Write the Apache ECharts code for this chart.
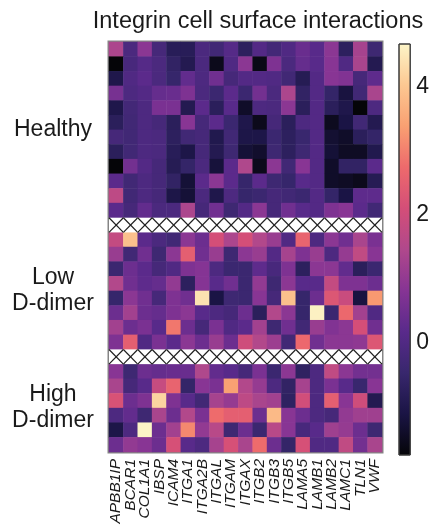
<!DOCTYPE html>
<html>
<head>
<meta charset="utf-8">
<script src="https://cdn.jsdelivr.net/npm/echarts@6/dist/echarts.min.js"></script>
<style>
  html, body { margin: 0; padding: 0; background: #fff; }
  #main { width: 432px; height: 529px; }
</style>
</head>
<body>
<div id="main"></div>
<script>
// gene columns
const genes = ['APBB1IP', 'BCAR1', 'COL1A1', 'IBSP', 'ICAM4', 'ITGA1', 'ITGA2B', 'ITGAL', 'ITGAM',
  'ITGAX', 'ITGB2', 'ITGB3', 'ITGB5', 'LAMA5', 'LAMB1', 'LAMB2', 'LAMC1', 'TLN1', 'VWF'];
const groupNames = ['Healthy', 'Low\nD-dimer', 'High\nD-dimer'];
const titleText = 'Integrin cell surface interactions';

// scaled expression, one row per sample
const healthy = [
  [1.4, -0.1, 0.9, -0.2, -0.8, -0.8, -0.1, -0.3, 0.1, -0.7, 0.05, -0.25, 0.0, 0.4, 0.15, 0.9, -0.7, 1.3, -0.35],
  [-1.75, -0.15, 0.1, -0.1, -0.6, -0.9, -0.1, -1.55, 0.0, 0.9, -1.6, 0.7, -0.1, 0.35, 0.15, 0.85, 0.0, 1.35, -0.9],
  [-1.0, 0.0, 0.2, -0.1, -0.5, 0.3, -0.05, 0.5, -0.2, 0.05, 0.05, 0.0, -0.3, -0.85, 0.05, 0.85, 0.75, -0.2, 0.25],
  [0.6, -0.05, 0.05, 0.35, 0.4, 0.7, -0.1, -0.4, 0.2, -0.4, 0.55, -0.1, 1.4, -0.6, 0.05, -0.55, -1.15, -0.3, 1.35],
  [-1.0, -0.25, -0.05, 0.65, 0.65, -0.9, 0.2, -0.75, 0.15, -1.4, -0.05, -0.1, 0.9, -0.75, 0.05, -0.75, -1.0, -1.75, -0.05],
  [-0.75, -0.3, -0.05, -0.2, -0.75, 0.85, -0.2, 0.2, -0.4, -1.0, -1.55, -0.2, -0.75, -0.05, 0.05, -1.5, -1.1, -0.3, -0.9],
  [-0.2, -0.3, -0.05, -0.1, -0.7, -0.3, -0.2, -0.95, -0.3, -1.05, -1.05, -0.4, -0.7, -0.45, 0.05, -1.3, -1.4, -0.75, -0.55],
  [-0.75, -0.3, -0.05, -0.1, -0.8, -1.05, -0.2, -0.9, -0.35, -1.25, -1.35, -0.35, -0.7, -0.35, 0.05, -1.25, -1.45, -1.45, -0.95],
  [-1.75, 0.55, 0.05, -0.2, -0.85, -0.55, -0.1, -1.2, 0.2, 1.45, -1.55, 0.9, -0.3, 0.85, 0.05, -1.4, -0.6, -0.6, 0.2],
  [0.2, -0.3, -0.05, -0.2, -0.6, -1.25, 0.2, 0.9, 0.2, -0.5, 0.2, -0.35, -0.5, 0.15, 0.05, -1.4, -1.45, -1.55, -0.85],
  [1.7, -0.3, -0.05, -0.2, -1.05, -1.25, -0.1, -1.0, -0.05, -0.5, -0.4, -0.2, -0.3, -0.4, 0.05, -0.55, -1.1, 0.25, 0.25],
  [0.2, -0.2, 0.3, -0.1, -0.1, 1.4, -0.2, 0.5, -0.35, 0.05, 0.9, -0.2, 0.5, 0.15, 0.05, 0.7, 0.85, 0.2, -0.3]
];
const lowDimer = [
  [1.8, 3.9, 0.2, -0.1, -0.3, 0.9, 0.45, 2.1, 1.4, 2.1, 1.5, 1.1, 0.0, 2.6, -0.05, 0.9, 0.5, 1.35, 0.65],
  [1.1, -0.3, 0.5, -0.35, 0.9, 2.5, 0.5, 1.1, -0.35, 0.9, 1.1, 0.05, 1.3, 0.7, 1.1, -0.05, 1.05, 1.75, 0.85],
  [-0.4, 0.45, 0.2, -0.2, 0.0, 0.7, 0.8, -0.05, -0.4, -0.4, 0.25, -0.15, 0.7, -0.7, 0.9, 0.9, 0.3, -0.75, -0.4],
  [1.5, 0.5, 0.25, 0.35, 1.0, -0.7, 0.8, 0.15, 0.5, -0.4, 1.0, -0.35, 0.9, 0.15, 0.15, 1.8, 0.7, 0.7, 0.45],
  [-0.5, 0.9, 0.5, -0.2, 0.7, 0.5, 4.4, -1.1, -0.35, -0.4, 0.85, -0.2, 3.9, -0.5, 0.45, 2.3, 1.9, -1.15, 3.3],
  [0.45, 1.25, 0.45, 0.35, 0.7, 0.9, 0.15, -0.05, -0.2, 0.45, -0.75, 1.5, 0.9, -0.5, 4.6, -0.4, 2.7, 1.25, 0.0],
  [1.25, 0.45, 0.65, 0.15, 2.9, 0.45, -0.2, 0.65, 0.0, 0.2, 1.25, -0.35, 0.5, -0.3, 1.1, 0.75, 0.9, 2.1, 0.5],
  [0.7, 2.5, 0.0, 0.65, 0.2, 0.9, 0.45, 1.1, 0.45, 2.0, 1.5, 1.15, -0.3, 2.7, 0.5, 0.9, 0.9, 0.95, 2.3]
];
const highDimer = [
  [0.85, -0.35, 0.45, 0.35, 0.4, 0.4, 1.45, 0.3, 0.15, -0.2, 0.65, -0.4, 0.9, -0.65, -0.05, 1.75, 0.9, 0.55, 0.55],
  [1.35, -0.2, 0.15, 1.85, 2.6, -0.55, 0.85, 0.65, 3.4, 1.5, 1.05, -0.05, -0.6, 1.3, -0.05, 0.65, 0.15, -0.45, 0.85],
  [2.2, 0.45, 0.7, 4.2, 0.7, 0.15, -0.3, 1.3, 1.05, 1.7, 1.35, 1.25, -0.65, 2.05, -0.05, 2.5, 0.85, 2.0, -0.9],
  [-0.05, 0.3, -0.35, 1.35, 0.45, 1.5, 0.65, 2.75, 2.5, 2.5, 0.45, 3.8, 0.85, 0.45, -0.05, -0.2, 1.0, 1.2, 1.2],
  [-1.05, -0.05, 4.65, 0.45, 1.25, 3.1, 1.0, 1.6, -0.35, 0.45, -0.4, 1.6, 0.85, -0.15, 0.15, 1.2, 1.05, 0.45, -0.35],
  [0.45, 1.0, 0.85, 0.45, 2.15, 0.15, -0.05, 1.3, 2.15, 1.35, 2.75, 0.45, -0.55, 2.15, 0.0, 0.0, 1.75, 0.55, 1.35]
];

// colour scale (magma-like, as it looks in the figure)
const colorMin = -1.75;
const colorMax = 4.67;
const colorTicks = [0, 2, 4];
const palette = ['#050508', '#1a1444', '#38276d', '#592a8b', '#863494', '#b0488c',
  '#d44e78', '#ee6a6c', '#f9a072', '#fcc892', '#fcf5c8'];

const font = "'Liberation Sans', Arial, Helvetica, sans-serif";
const textColor = '#1a1a1a';

// rows top to bottom, a hatched row between groups
const groups = [healthy, lowDimer, highDimer];
const rowLabels = [];
const heatData = [];
const hatchData = [];
const groupSpans = [];
groups.forEach((rows, g) => {
  if (g > 0) {
    const r = rowLabels.length;
    rowLabels.push('sep' + g);
    genes.forEach((_, c) => hatchData.push([c, r]));
  }
  const start = rowLabels.length;
  rows.forEach((vals, i) => {
    const r = rowLabels.length;
    rowLabels.push('g' + g + '_' + i);
    vals.forEach((v, c) => heatData.push([c, r, v]));
  });
  groupSpans.push([start, rowLabels.length - 1]);
});

function renderHatch(params, api) {
  const p = api.coord([api.value(0), api.value(1)]);
  const s = api.size([1, 1]);
  const x0 = p[0] - s[0] / 2, y0 = p[1] - s[1] / 2;
  const x1 = x0 + s[0], y1 = y0 + s[1];
  const line = { stroke: '#1e1e1e', lineWidth: 1.2 };
  return {
    type: 'group',
    children: [
      { type: 'rect', shape: { x: x0, y: y0, width: s[0], height: s[1] }, style: { fill: '#fff' } },
      { type: 'line', shape: { x1: x0, y1: y0, x2: x1, y2: y1 }, style: line },
      { type: 'line', shape: { x1: x1, y1: y0, x2: x0, y2: y1 }, style: line }
    ]
  };
}

function renderColorbar(params, api) {
  const top = api.coord([0, colorMax]);
  const bottom = api.coord([0, colorMin]);
  const w = api.size([1, 0])[0];
  const n = palette.length - 1;
  const stops = palette.map((c, i) => ({ offset: 1 - i / n, color: c })).reverse();
  return {
    type: 'rect',
    shape: { x: top[0] - w / 2, y: top[1], width: w, height: bottom[1] - top[1] },
    style: { fill: new echarts.graphic.LinearGradient(0, 0, 0, 1, stops), stroke: '#3a3a3a', lineWidth: 1 }
  };
}

const chart = echarts.init(document.getElementById('main'));
const barTicks = {
  inside: true, length: 4, customValues: colorTicks,
  lineStyle: { color: '#333', width: 1 }
};
chart.setOption({
  animation: false,
  textStyle: { fontFamily: font },
  grid: [
    { left: 109, top: 42, width: 273, height: 410, show: true, borderColor: '#858585', borderWidth: 3, backgroundColor: '#fff' },
    { left: 399, top: 44, width: 15, height: 411 }
  ],
  xAxis: [
    {
      type: 'category', gridIndex: 0, data: genes,
      axisLine: { show: false }, axisTick: { show: false }, splitLine: { show: false },
      axisLabel: { interval: 0, rotate: 90, margin: 7, fontSize: 15.5, fontStyle: 'italic', color: textColor, fontFamily: font }
    },
    { type: 'category', gridIndex: 1, data: ['bar'], show: false }
  ],
  yAxis: [
    { type: 'category', gridIndex: 0, data: rowLabels, inverse: true, show: false },
    {
      type: 'value', gridIndex: 1, min: colorMin, max: colorMax, position: 'right', z: 10,
      splitLine: { show: false }, axisLine: { show: false }, axisTick: barTicks,
      axisLabel: { customValues: colorTicks, fontSize: 23, margin: 6, color: textColor, fontFamily: font }
    },
    {
      type: 'value', gridIndex: 1, min: colorMin, max: colorMax, position: 'left', z: 10,
      splitLine: { show: false }, axisLine: { show: false }, axisTick: barTicks,
      axisLabel: { show: false }
    }
  ],
  visualMap: {
    show: false, type: 'continuous', seriesIndex: 0,
    min: colorMin, max: colorMax, inRange: { color: palette }
  },
  series: [
    { type: 'heatmap', xAxisIndex: 0, yAxisIndex: 0, data: heatData, itemStyle: { borderWidth: 0 } },
    { type: 'custom', xAxisIndex: 0, yAxisIndex: 0, data: hatchData, renderItem: renderHatch, z: 3 },
    { type: 'custom', xAxisIndex: 1, yAxisIndex: 1, data: [[0, colorMax]], renderItem: renderColorbar, clip: false }
  ]
});

// group labels centred on their rows, plus the title
const graphics = groupSpans.map(([a, b], g) => {
  const ya = chart.convertToPixel({ yAxisIndex: 0 }, rowLabels[a]);
  const yb = chart.convertToPixel({ yAxisIndex: 0 }, rowLabels[b]);
  return {
    type: 'text', x: 53, y: (ya + yb) / 2,
    style: {
      text: groupNames[g], fontSize: 23, lineHeight: 26, fontFamily: font, fill: textColor,
      align: 'center', verticalAlign: 'middle', textAlign: 'center', textVerticalAlign: 'middle'
    }
  };
});
graphics.push({
  type: 'text', x: 258, y: 22,
  style: {
    text: titleText, fontSize: 23.5, fontFamily: font, fill: textColor,
    align: 'center', verticalAlign: 'middle', textAlign: 'center', textVerticalAlign: 'middle'
  }
});
chart.setOption({ graphic: graphics });
</script>
</body>
</html>
